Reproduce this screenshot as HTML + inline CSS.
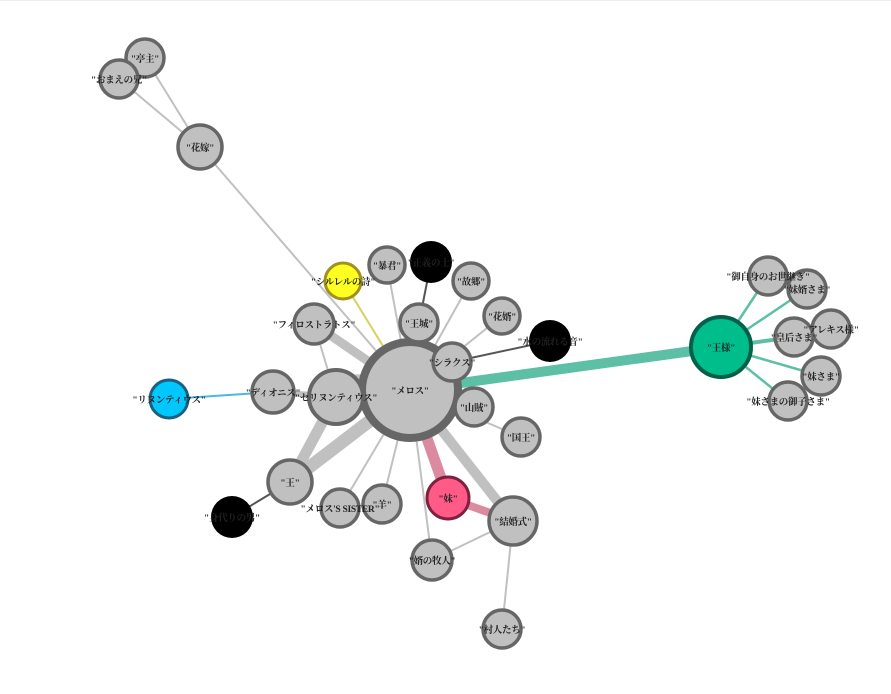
<!DOCTYPE html>
<html><head><meta charset="utf-8"><style>
html,body{margin:0;padding:0;background:#fff;}
svg{display:block;}
text{font-family:"Liberation Serif","Noto Serif CJK SC","Noto Sans CJK JP",serif;font-size:9.5px;font-weight:bold;fill:#222;text-anchor:middle;dominant-baseline:central;letter-spacing:-0.3px;}
</style></head><body>
<svg width="891" height="694" viewBox="0 0 891 694">
<rect x="0" y="0" width="891" height="1" fill="#eee"/>
<g stroke-linecap="butt">
<g stroke="#c0c0c0" stroke-width="2">
<line x1="145" y1="58" x2="200" y2="147"/>
<line x1="119" y1="79" x2="200" y2="147"/>
<line x1="200" y1="147" x2="410" y2="390"/>
<line x1="387" y1="265" x2="410" y2="390"/>
<line x1="471" y1="281" x2="410" y2="390"/>
<line x1="502" y1="316" x2="410" y2="390"/>
<line x1="314" y1="324" x2="336" y2="397"/>
<line x1="521" y1="437" x2="410" y2="390"/>
<line x1="340" y1="508" x2="410" y2="390"/>
<line x1="382" y1="504" x2="410" y2="390"/>
<line x1="432" y1="560" x2="410" y2="390"/>
<line x1="432" y1="560" x2="513" y2="521"/>
<line x1="502" y1="629" x2="513" y2="521"/>
</g>
<line x1="343" y1="281" x2="410" y2="390" stroke="#d8d060" stroke-width="2"/>
<line x1="431" y1="262" x2="419" y2="323" stroke="#555" stroke-width="2"/>
<line x1="550" y1="341" x2="452" y2="362" stroke="#555" stroke-width="2"/>
<line x1="232" y1="517" x2="290" y2="482" stroke="#555" stroke-width="2"/>
<line x1="169" y1="399" x2="273" y2="392" stroke="#4ab8e0" stroke-width="2"/>
<line x1="273" y1="392" x2="336" y2="397" stroke="#c0c0c0" stroke-width="6"/>
<line x1="314" y1="324" x2="410" y2="390" stroke="#c0c0c0" stroke-width="9"/>
<path d="M336 397 Q340 370 380 380" stroke="#c0c0c0" stroke-width="6" fill="none"/>
<line x1="290" y1="482" x2="336" y2="397" stroke="#c0c0c0" stroke-width="11"/>
<line x1="290" y1="482" x2="410" y2="390" stroke="#c0c0c0" stroke-width="13"/>
<line x1="513" y1="521" x2="410" y2="390" stroke="#c0c0c0" stroke-width="10"/>
<line x1="448" y1="498" x2="410" y2="390" stroke="#dc8aa0" stroke-width="11"/>
<line x1="448" y1="498" x2="513" y2="521" stroke="#dc8aa0" stroke-width="8"/>
<line x1="721" y1="347" x2="410" y2="390" stroke="#5cbfa6" stroke-width="10"/>
<g stroke="#5cbfa6" stroke-width="2.5">
<line x1="721" y1="347" x2="768" y2="276"/>
<line x1="721" y1="347" x2="807" y2="289"/>
<line x1="721" y1="347" x2="794" y2="337" stroke-width="4"/>
<line x1="721" y1="347" x2="821" y2="376"/>
<line x1="721" y1="347" x2="788" y2="401"/>
</g>
</g>
<g stroke="#666" stroke-width="3.5" fill="#c0c0c0">
<circle cx="145" cy="58" r="19"/>
<circle cx="119" cy="79" r="19"/>
<circle cx="200" cy="147" r="22"/>
<circle cx="387" cy="265" r="18"/>
<circle cx="471" cy="281" r="18"/>
<circle cx="502" cy="316" r="18"/>
<circle cx="314" cy="324" r="20"/>
<circle cx="273" cy="392" r="21"/>
<circle cx="521" cy="437" r="19"/>
<circle cx="290" cy="482" r="22"/>
<circle cx="340" cy="508" r="19"/>
<circle cx="382" cy="504" r="19"/>
<circle cx="432" cy="560" r="20"/>
<circle cx="502" cy="629" r="19"/>
<circle cx="513" cy="521" r="24"/>
<circle cx="410" cy="390" r="48" stroke-width="8"/>
<circle cx="419" cy="323" r="19"/>
<circle cx="452" cy="362" r="19"/>
<circle cx="474" cy="407" r="19"/>
<circle cx="336" cy="397" r="27" stroke-width="4"/>
<circle cx="768" cy="276" r="19"/>
<circle cx="807" cy="289" r="19"/>
<circle cx="831" cy="329" r="19"/>
<circle cx="794" cy="337" r="19"/>
<circle cx="821" cy="376" r="19"/>
<circle cx="788" cy="401" r="19"/>
</g>
<circle cx="343" cy="281" r="18" fill="#ffff22" stroke="#a09020" stroke-width="3"/>
<circle cx="431" cy="262" r="21" fill="#000"/>
<circle cx="550" cy="341" r="21" fill="#000"/>
<circle cx="232" cy="517" r="21" fill="#000"/>
<circle cx="169" cy="399" r="19" fill="#00c8ff" stroke="#1a6080" stroke-width="3"/>
<circle cx="448" cy="498" r="21" fill="#ff5a88" stroke="#802040" stroke-width="3"/>
<circle cx="721" cy="347" r="30" fill="#00bd8c" stroke="#006048" stroke-width="4"/>
<text x="145" y="60">"亭主"</text>
<text x="119" y="81">"おまえの兄"</text>
<text x="200" y="149">"花嫁"</text>
<text x="343" y="283">"シルレルの詩"</text>
<text x="387" y="267">"暴君"</text>
<text x="431" y="264">"正義の士"</text>
<text x="471" y="283">"故郷"</text>
<text x="502" y="318">"花婿"</text>
<text x="419" y="325">"王城"</text>
<text x="550" y="343">"水の流れる音"</text>
<text x="452" y="364">"シラクス"</text>
<text x="314" y="326">"フィロストラトス"</text>
<text x="273" y="394">"ディオニス"</text>
<text x="336" y="399">"セリヌンティウス"</text>
<text x="410" y="392">"メロス"</text>
<text x="169" y="401">"リヌンティウス"</text>
<text x="474" y="409">"山賊"</text>
<text x="521" y="439">"国王"</text>
<text x="290" y="484">"王"</text>
<text x="232" y="519">"身代りの男"</text>
<text x="340" y="510">"メロス'S SISTER"</text>
<text x="382" y="506">"羊"</text>
<text x="448" y="500">"妹"</text>
<text x="513" y="523">"結婚式"</text>
<text x="432" y="562">"婿の牧人"</text>
<text x="502" y="631">"村人たち"</text>
<text x="721" y="349">"王様"</text>
<text x="768" y="278">"御自身のお世継ぎ"</text>
<text x="807" y="291">"妹婿さま"</text>
<text x="831" y="331">"アレキス様"</text>
<text x="794" y="339">"皇后さま"</text>
<text x="821" y="378">"妹さま"</text>
<text x="788" y="403">"妹さまの御子さま"</text>
</svg>
</body></html>
